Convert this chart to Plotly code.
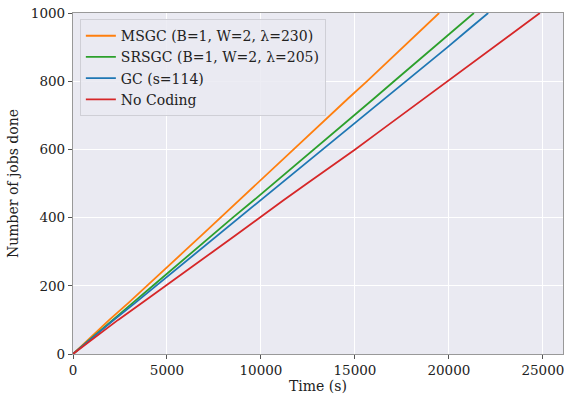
import plotly.graph_objects as go

jobs = [0, 50, 100, 150, 200, 250, 300, 350, 400, 450, 500, 550, 600, 650, 700, 750, 800, 850, 900, 950, 1000]

t_msgc = [0, 960, 1930, 2950, 3950, 4920, 5900, 6880, 7850, 8800, 9760, 10720, 11690, 12680, 13660, 14650, 15650, 16620, 17570, 18520, 19480]
t_srsgc = [0, 1040, 2100, 3180, 4250, 5300, 6380, 7440, 8500, 9600, 10680, 11760, 12850, 13900, 14960, 16030, 17080, 18150, 19210, 20260, 21330]
t_gc = [0, 1080, 2180, 3310, 4420, 5520, 6630, 7740, 8850, 9950, 11050, 12150, 13260, 14380, 15490, 16610, 17730, 18830, 19930, 21010, 22090]
t_nocoding = [0, 1180, 2400, 3680, 4950, 6180, 7440, 8690, 9920, 11180, 12450, 13740, 15010, 16240, 17460, 18700, 19910, 21150, 22380, 23600, 24840]

names = ["MSGC (B=1, W=2, λ=230)", "SRSGC (B=1, W=2, λ=205)", "GC (s=114)", "No Coding"]
colors = ["#ff7f0e", "#2ca02c", "#1f77b4", "#d62728"]
series = [t_msgc, t_srsgc, t_gc, t_nocoding]

xticks = [0, 5000, 10000, 15000, 20000, 25000]
yticks = [0, 200, 400, 600, 800, 1000]

FONT = "DejaVu Serif"

fig = go.Figure()
for name, col, t in zip(names, colors, series):
    fig.add_trace(go.Scatter(x=t, y=jobs, mode="lines", name=name,
                             line=dict(color=col, width=1.8)))

axis_common = dict(
    showgrid=True, gridcolor="white", gridwidth=1,
    showline=True, linecolor="#999999", linewidth=1.2, mirror=True,
    ticks="outside", ticklen=4, tickcolor="#555555", tickwidth=1,
    zeroline=False, automargin=False, ticklabeloverflow="allow",
    tickfont=dict(family=FONT, size=13.5, color="#222222"),
)

fig.update_xaxes(range=[0, 26070], tickvals=xticks, ticktext=[str(v) for v in xticks],
                 title=dict(text="Time (s)", font=dict(family=FONT, size=14, color="#222222"), standoff=2),
                 **axis_common)
fig.update_yaxes(range=[0, 1000], tickvals=yticks, ticktext=[str(v) for v in yticks],
                 title=dict(text="Number of jobs done", font=dict(family=FONT, size=14, color="#222222"), standoff=8),
                 **axis_common)

fig.update_layout(
    width=564, height=397,
    margin=dict(l=73, r=1, t=13, b=43),
    paper_bgcolor="white",
    plot_bgcolor="#EAEAF2",
    font=dict(family=FONT, size=13.5, color="#222222"),
    showlegend=True,
    legend=dict(x=0.014, y=0.982, xanchor="left", yanchor="top",
                bgcolor="rgba(234,234,242,0.85)", bordercolor="#cfcfd6", borderwidth=1,
                font=dict(family=FONT, size=14, color="#222222"),
                tracegroupgap=0, itemwidth=30),
)

fig.write_html("out.html", config={"displayModeBar": False},
               post_script="document.body.style.margin='0';document.body.style.overflow='hidden';")
